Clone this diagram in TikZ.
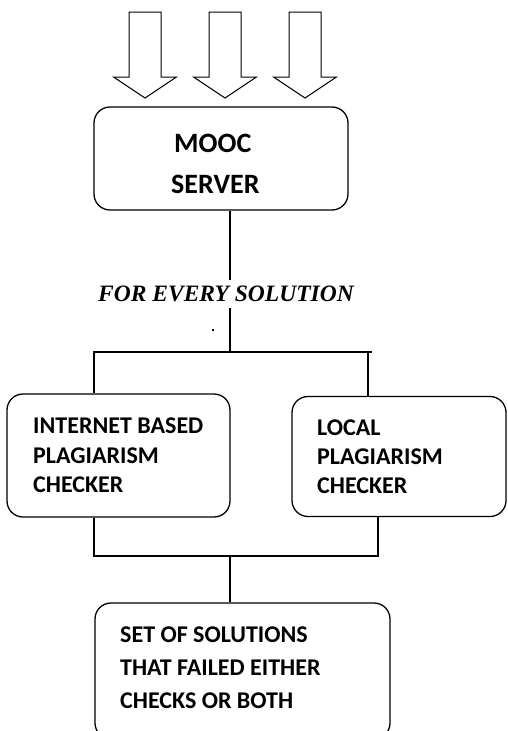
\documentclass[tikz,border=0pt]{standalone}
\usepackage{fontspec}
\setsansfont{Carlito}
\newfontfamily\captionfont{Liberation Serif}
\begin{document}
\begin{tikzpicture}[x=1pt,y=-1pt,
  box/.style={draw, line width=1.3pt, rounded corners=16pt, inner sep=0pt},
  boxtext/.style={anchor=north west, inner sep=0pt, align=left,
    font=\sffamily\bfseries\fontsize{24}{29.5}\selectfont},
  link/.style={line width=1.4pt},
  inarrow/.style={draw, line width=1pt, fill=white, line join=miter}]
\useasboundingbox (0,0) rectangle (508,731);

% incoming block arrows
\foreach \cx in {145,225,305}
  \draw[inarrow] (\cx-16,12) -- (\cx+16,12) -- (\cx+16,77) -- (\cx+31.5,77)
    -- (\cx,98) -- (\cx-31.5,77) -- (\cx-16,77) -- cycle;

% boxes
\node[box, minimum width=254pt, minimum height=103pt] (mooc) at (221,158.5) {};
\node[box, minimum width=223pt, minimum height=123pt] (inet) at (118.5,455.5) {};
\node[box, minimum width=214pt, minimum height=120pt] (local) at (399,456.5) {};
\node[box, minimum width=295pt, minimum height=136pt] (result) at (242.5,671) {};

% box texts
\node[boxtext, font=\sffamily\bfseries\fontsize{28}{41}\selectfont]
  (moocT) at (171,134) {\hspace{3pt}MOOC\\SERVER};
\node[boxtext] (inetT) at (33,418) {INTERNET BASED\\PLAGIARISM\\CHECKER};
\node[boxtext, font=\sffamily\bfseries\fontsize{24}{29}\selectfont]
  (localT) at (317,420) {LOCAL\\PLAGIARISM\\CHECKER};
\node[boxtext, font=\sffamily\bfseries\fontsize{24}{33}\selectfont]
  (resultT) at (120,627) {SET OF SOLUTIONS\\THAT FAILED EITHER\\CHECKS OR BOTH};

% label on the split line
\node[font=\captionfont\bfseries\itshape\fontsize{23.5}{23.5}\selectfont,
  inner xsep=0pt, inner ysep=0pt, minimum height=28pt] (every) at (226,294)
  {FOR EVERY SOLUTION};

% junction points
\coordinate (split) at (230,352);
\coordinate (splitL) at (93,352);
\coordinate (splitR) at (372,352);
\coordinate (merge) at (230,556);
\coordinate (mergeL) at (94,556);
\coordinate (mergeR) at (378,556);

% split: server to both checkers
\draw[link] (split |- mooc.south) -- (split |- every.north);
\draw[link] (split |- every.south) -- (split);
\draw[link] (splitL) -- (splitR);
\draw[link] (94,352) -- (94,352 |- inet.north);
\draw[link] (368,352) -- (368,352 |- local.north);
\fill (212.3,328.5) rectangle (213.8,331);

% merge: both checkers to the result set
\draw[link] (mergeL |- inet.south) -- (mergeL) -- (mergeR) -- (mergeR |- local.south);
\draw[link] (merge) -- (merge |- result.north);
\end{tikzpicture}
\end{document}
